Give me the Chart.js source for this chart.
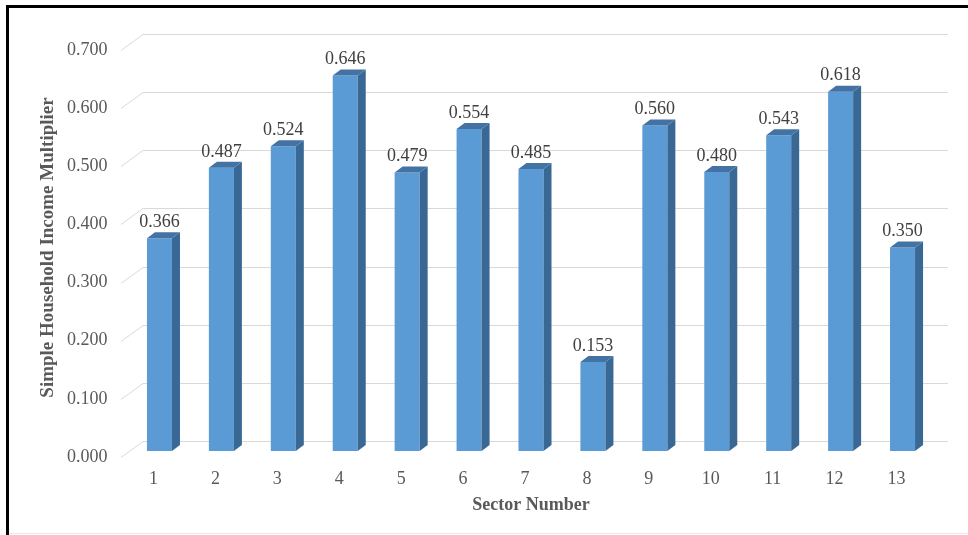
<!DOCTYPE html>
<html>
<head>
<meta charset="utf-8">
<script src="https://cdn.jsdelivr.net/npm/chart.js@4/dist/chart.umd.min.js"></script>
<style>
html,body{margin:0;padding:0;background:#fff;}
#wrap{position:relative;width:968px;height:535px;}
</style>
</head>
<body>
<div id="wrap"><canvas id="c" width="968" height="535"></canvas></div>
<script>
const categories = ['1','2','3','4','5','6','7','8','9','10','11','12','13'];
const multipliers = [0.366, 0.487, 0.524, 0.646, 0.479, 0.554, 0.485, 0.153, 0.560, 0.480, 0.543, 0.618, 0.350];
const yTicks = [0, 0.1, 0.2, 0.3, 0.4, 0.5, 0.6, 0.7];
const xTitle = 'Sector Number';
const yTitle = 'Simple Household Income Multiplier';

const FONT = "'Liberation Serif', 'Times New Roman', serif";
const DEPTH_X = 8, DEPTH_Y = 6;

const gridPlugin = {
  id: 'grid3d',
  beforeDatasetsDraw(chart) {
    const ctx = chart.ctx, ys = chart.scales.y;
    ctx.save();
    ctx.strokeStyle = '#d9d9d9';
    ctx.lineWidth = 1;
    yTicks.forEach(v => {
      const yf = Math.round(ys.getPixelForValue(v) + 6) + 0.5;
      ctx.beginPath();
      ctx.moveTo(121, yf);
      ctx.lineTo(143, yf - 16);
      ctx.lineTo(948, yf - 16);
      ctx.stroke();
    });
    ctx.restore();
  },
  afterDatasetsDraw(chart) {
    const ctx = chart.ctx;
    const meta = chart.getDatasetMeta(0);
    ctx.save();
    meta.data.forEach((bar, i) => {
      const p = bar.getProps(['x','y','base','width'], true);
      const l = p.x - p.width/2, r = p.x + p.width/2, t = p.y, b = p.base;
      ctx.fillStyle = '#3a6894';
      ctx.beginPath();
      ctx.moveTo(r, t); ctx.lineTo(r + DEPTH_X, t - DEPTH_Y);
      ctx.lineTo(r + DEPTH_X, b - DEPTH_Y); ctx.lineTo(r, b); ctx.closePath(); ctx.fill();
      ctx.fillStyle = '#4273a4';
      ctx.beginPath();
      ctx.moveTo(l, t); ctx.lineTo(l + DEPTH_X, t - DEPTH_Y);
      ctx.lineTo(r + DEPTH_X, t - DEPTH_Y); ctx.lineTo(r, t); ctx.closePath(); ctx.fill();
      ctx.fillStyle = '#404040';
      ctx.font = '18px ' + FONT;
      ctx.textAlign = 'center';
      ctx.textBaseline = 'middle';
      ctx.fillText(multipliers[i].toFixed(3), p.x, t - 16);
    });
    ctx.restore();
  },
  afterDraw(chart) {
    const ctx = chart.ctx;
    ctx.save();
    ctx.fillStyle = '#000';
    ctx.fillRect(6, 5, 962, 3);
    ctx.fillRect(6, 5, 3, 530);
    ctx.fillStyle = '#e8e8e8';
    ctx.fillRect(9, 533, 959, 1);
    ctx.restore();
  }
};

new Chart(document.getElementById('c'), {
  type: 'bar',
  data: {
    labels: categories,
    datasets: [{
      data: multipliers,
      backgroundColor: '#5b9bd5',
      borderWidth: 0,
      categoryPercentage: 1,
      barPercentage: 0.404
    }]
  },
  options: {
    responsive: false,
    animation: false,
    devicePixelRatio: 1,
    layout: { padding: { left: 0, right: 34.5, top: 44, bottom: 0 } },
    plugins: { legend: { display: false }, tooltip: { enabled: false } },
    scales: {
      x: {
        grid: { display: false, drawTicks: false },
        border: { display: false },
        ticks: { color: '#595959', font: { family: FONT, size: 18 }, padding: 17, labelOffset: -6, maxRotation: 0 },
        title: { display: true, text: xTitle, color: '#595959', font: { family: FONT, size: 18, weight: 'bold' }, padding: { top: 0, bottom: 19 } },
        afterFit(s) { s.height = 84; }
      },
      y: {
        min: 0, max: 0.7,
        grid: { display: false, drawTicks: false },
        border: { display: false },
        afterBuildTicks(s) { s.ticks = yTicks.map(v => ({ value: v })); },
        ticks: { color: '#595959', font: { family: FONT, size: 18 }, padding: 21, labelOffset: 6, callback: v => Number(v).toFixed(3) },
        title: { display: true, text: yTitle, color: '#595959', font: { family: FONT, size: 19, weight: 'bold' }, padding: { top: 37, bottom: 0 } },
        afterFit(s) { s.width = 128.5; }
      }
    }
  },
  plugins: [gridPlugin]
});
</script>
</body>
</html>
